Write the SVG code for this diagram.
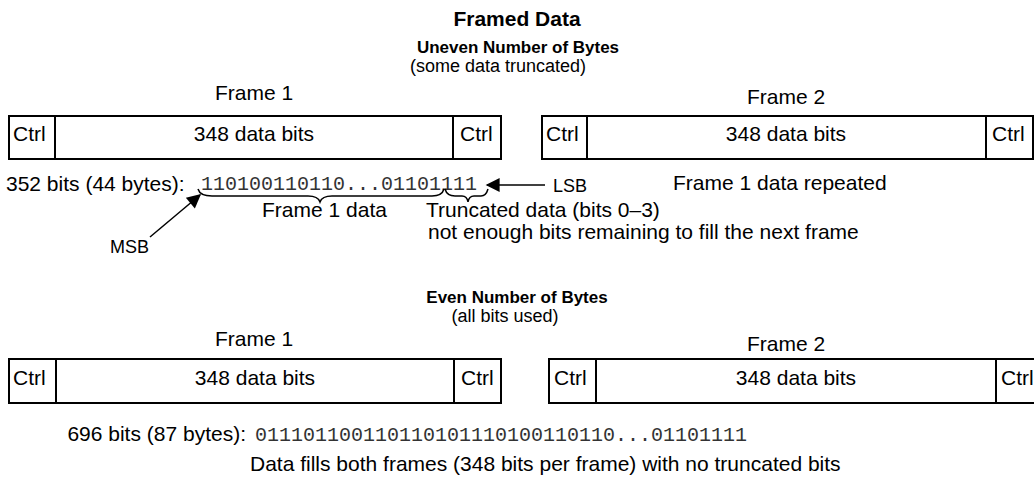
<svg xmlns="http://www.w3.org/2000/svg" width="1034" height="482" viewBox="0 0 1034 482">
<style>
.t{font-family:"Liberation Sans",Arial,sans-serif;font-size:21px;fill:#000}
.s{font-family:"Liberation Sans",Arial,sans-serif;font-size:18px;fill:#000}
.b{font-family:"Liberation Sans",Arial,sans-serif;font-weight:bold;fill:#000}
.m{font-family:"Liberation Mono","Courier New",monospace;font-size:20px;fill:#333}
.c{text-anchor:middle}
.box{fill:#fff;stroke:#000;stroke-width:2}
.dv{stroke:#000;stroke-width:2}
.ln{fill:none;stroke:#000;stroke-width:1.5}
</style>
<defs>
<marker id="ah" viewBox="0 0 10 10" refX="9" refY="5" markerWidth="16" markerHeight="14" orient="auto" markerUnits="userSpaceOnUse">
<path d="M0,0 L10,5 L0,10 z" fill="#000"/>
</marker>
</defs>
<rect width="1034" height="482" fill="#fff"/>
<text class="b c" x="517" y="26" font-size="21">Framed Data</text>
<text class="b c" x="518" y="53" font-size="17">Uneven Number of Bytes</text>
<text class="s c" x="498" y="72">(some data truncated)</text>

<g id="top-frame1">
<text class="t c" x="254" y="100" font-size="20">Frame 1</text>
<rect class="box" x="9" y="116" width="492" height="43"/>
<line class="dv" x1="55" y1="116" x2="55" y2="159"/>
<line class="dv" x1="453" y1="116" x2="453" y2="159"/>
<text class="t" x="13" y="141">Ctrl</text>
<text class="t c" x="254" y="141">348 data bits</text>
<text class="t" x="460" y="141">Ctrl</text>
</g>
<g id="top-frame2">
<text class="t c" x="786" y="104" font-size="20">Frame 2</text>
<rect class="box" x="542" y="116" width="491" height="43"/>
<line class="dv" x1="587" y1="116" x2="587" y2="159"/>
<line class="dv" x1="986" y1="116" x2="986" y2="159"/>
<text class="t" x="546" y="141">Ctrl</text>
<text class="t c" x="786" y="141">348 data bits</text>
<text class="t" x="992" y="141">Ctrl</text>
</g>

<g id="bits-uneven">
<text class="t" x="6" y="191">352 bits (44 bytes):</text>
<text class="m" x="201" y="190">110100110110...01101111</text>
<text class="s" x="553" y="192">LSB</text>
<text class="t" x="673" y="190">Frame 1 data repeated</text>
<text class="t" x="262" y="217" font-size="20">Frame 1 data</text>
<text class="t" x="426" y="217" font-size="20">Truncated data (bits 0–3)</text>
<text class="t" x="428" y="239" font-size="20"> not enough bits remaining to fill the next frame</text>
<text class="s" x="110" y="253">MSB</text>
</g>

<g id="connectors">
<path class="ln" d="M198,189 Q200,196 212,196 L308,196 Q318,196 320,202 Q322,196 332,196 L432,196 Q442,196 444,189"/>
<path class="ln" d="M445,189 Q447,196 455,196 L462,196 Q467,196 468,202 Q469,196 474,196 L481,196 Q486,196 488,189"/>
<line class="ln" x1="150" y1="237" x2="200" y2="195" stroke-width="1" marker-end="url(#ah)"/>
<line class="ln" x1="545" y1="185" x2="487" y2="185" stroke-width="1" marker-end="url(#ah)"/>
</g>

<text class="b c" x="517" y="303" font-size="17">Even Number of Bytes</text>
<text class="s c" x="505" y="322" font-size="17">(all bits used)</text>

<g id="bottom-frame1">
<text class="t c" x="254" y="346" font-size="20">Frame 1</text>
<rect class="box" x="9" y="359" width="492" height="44"/>
<line class="dv" x1="56" y1="359" x2="56" y2="403"/>
<line class="dv" x1="454" y1="359" x2="454" y2="403"/>
<text class="t" x="13" y="385">Ctrl</text>
<text class="t c" x="255" y="385">348 data bits</text>
<text class="t" x="461" y="385">Ctrl</text>
</g>
<g id="bottom-frame2">
<text class="t c" x="786" y="351" font-size="20">Frame 2</text>
<rect class="box" x="549" y="359" width="500" height="44"/>
<line class="dv" x1="596" y1="359" x2="596" y2="403"/>
<line class="dv" x1="996" y1="359" x2="996" y2="403"/>
<text class="t" x="554" y="385">Ctrl</text>
<text class="t c" x="796" y="385">348 data bits</text>
<text class="t" x="1001" y="385">Ctrl</text>
</g>

<g id="bits-even">
<text class="t" x="246" y="441" text-anchor="end" font-size="20">696 bits (87 bytes):</text>
<text class="m" x="255" y="441">011101100110110101110100110110...01101111</text>
<text class="t" x="250" y="471" font-size="20">Data fills both frames (348 bits per frame) with no truncated bits</text>
</g>
</svg>
